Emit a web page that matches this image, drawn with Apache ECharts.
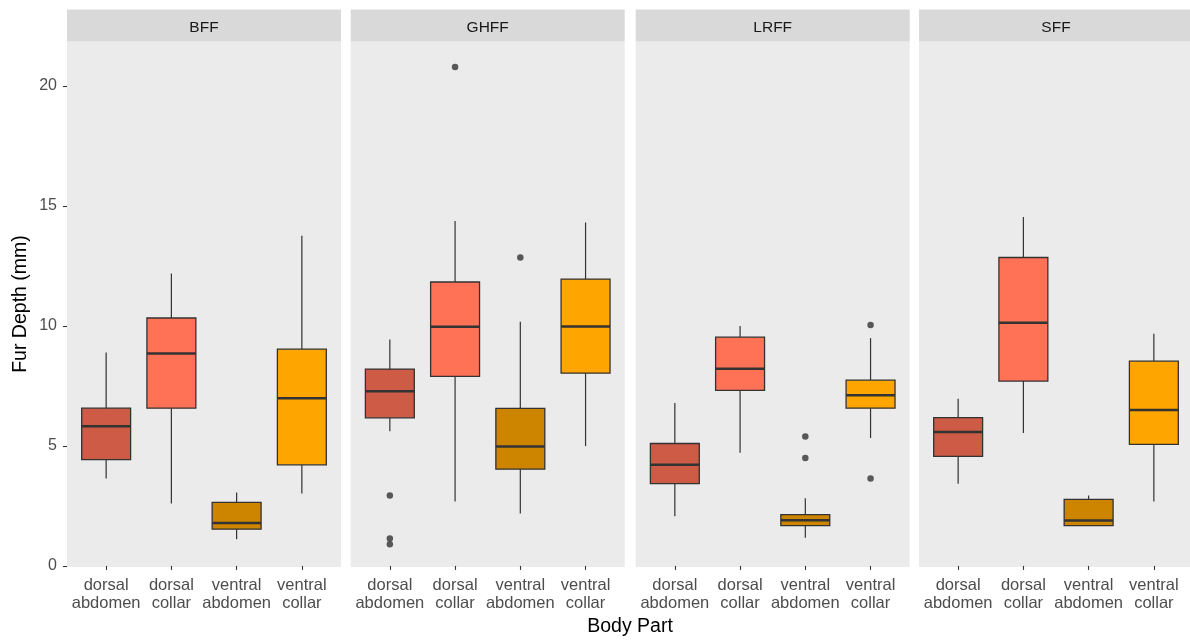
<!DOCTYPE html>
<html>
<head>
<meta charset="utf-8">
<script src="https://cdn.jsdelivr.net/npm/echarts@6/dist/echarts.min.js"></script>
<style>
html,body{margin:0;padding:0;background:#fff;}
#chart{width:1190px;height:642px;}
</style>
</head>
<body>
<div id="chart"></div>
<script>
// ---- data ----
const facets = ['BFF', 'GHFF', 'LRFF', 'SFF'];
const bodyParts = ['dorsal\nabdomen', 'dorsal\ncollar', 'ventral\nabdomen', 'ventral\ncollar'];
const partColors = ['#CD5B45', '#FF7256', '#CD8500', '#FFA500'];
const yTicks = [0, 5, 10, 15, 20];

// [lower whisker, Q1, median, Q3, upper whisker] per body part
const boxBFF = [
  [3.64, 4.43, 5.82, 6.57, 8.89],
  [2.60, 6.57, 8.85, 10.33, 12.18],
  [1.11, 1.53, 1.79, 2.65, 3.06],
  [3.02, 4.21, 6.99, 9.03, 13.76]
];
const boxGHFF = [
  [5.61, 6.17, 7.28, 8.20, 9.43],
  [2.68, 7.90, 9.96, 11.83, 14.37],
  [2.18, 4.03, 4.97, 6.56, 10.17],
  [4.99, 8.03, 9.97, 11.95, 14.31]
];
const boxLRFF = [
  [2.07, 3.43, 4.21, 5.10, 6.79],
  [4.71, 7.31, 8.21, 9.53, 10.00],
  [1.17, 1.68, 1.90, 2.14, 2.82],
  [5.33, 6.57, 7.11, 7.74, 9.49]
];
const boxSFF = [
  [3.42, 4.56, 5.58, 6.18, 6.96],
  [5.54, 7.70, 10.13, 12.85, 14.54],
  [1.68, 1.68, 1.89, 2.77, 2.93],
  [2.68, 5.06, 6.50, 8.53, 9.67]
];
// outliers: [body part index (1-based), value]
const outBFF = [];
const outGHFF = [[1, 2.93], [1, 1.14], [1, 0.90], [2, 20.79], [3, 12.85]];
const outLRFF = [[3, 5.39], [3, 4.50], [4, 10.04], [4, 3.64]];
const outSFF = [];

const allBoxes = [boxBFF, boxGHFF, boxLRFF, boxSFF];
const allOut = [outBFF, outGHFF, outLRFF, outSFF];

// ---- layout ----
const FONT = "'Liberation Sans', Arial, sans-serif";
const panelLeft = [67, 350.7, 635.7, 919];
const panelW = 274;
const panelTop = 41.5;
const yMin = -0.05, yMax = 21.85;
const panelH = (yMax - yMin) * 24;

const chart = echarts.init(document.getElementById('chart'), null, {renderer: 'canvas'});

const grids = [], xAxes = [], yAxes = [], series = [], graphics = [];
facets.forEach((f, i) => {
  grids.push({
    left: panelLeft[i], top: panelTop, width: panelW, height: panelH,
    show: true, backgroundColor: '#EBEBEB', borderWidth: 0,
    containLabel: false, outerBoundsMode: 'none'
  });
  xAxes.push({
    type: 'value', gridIndex: i, min: 0.4, max: 4.6,
    splitLine: {show: false},
    axisLine: {show: false},
    axisTick: {show: true, length: 4, lineStyle: {color: '#333333', width: 1.1}, customValues: [1, 2, 3, 4]},
    axisLabel: {
      show: true, customValues: [1, 2, 3, 4], margin: 10,
      color: '#4D4D4D', fontSize: 16.5, fontFamily: FONT, lineHeight: 17.7,
      formatter: v => bodyParts[Math.round(v) - 1] || ''
    }
  });
  yAxes.push({
    type: 'value', gridIndex: i, min: yMin, max: yMax,
    splitLine: {show: false},
    axisLine: {show: false},
    axisTick: {show: i === 0, length: 4, lineStyle: {color: '#333333', width: 1.1}, customValues: yTicks},
    axisLabel: {
      show: i === 0, customValues: yTicks, margin: 10,
      color: '#4D4D4D', fontSize: 16, fontFamily: FONT
    }
  });
  const boxData = allBoxes[i].map((b, k) => [k + 1, b[0], b[1], b[2], b[3], b[4], k]);
  series.push({
    type: 'custom', xAxisIndex: i, yAxisIndex: i,
    data: boxData,
    renderItem: (params, api) => {
      const x = api.value(0);
      const lo = api.coord([x, api.value(1)]);
      const q1 = api.coord([x, api.value(2)]);
      const md = api.coord([x, api.value(3)]);
      const q3 = api.coord([x, api.value(4)]);
      const hi = api.coord([x, api.value(5)]);
      const w = api.size([0.75, 0])[0];
      const cx = lo[0];
      const col = partColors[api.value(6)];
      const ls = {stroke: '#333333', lineWidth: 1.2};
      return {
        type: 'group',
        children: [
          {type: 'line', shape: {x1: cx, y1: hi[1], x2: cx, y2: q3[1]}, style: ls},
          {type: 'line', shape: {x1: cx, y1: q1[1], x2: cx, y2: lo[1]}, style: ls},
          {type: 'rect', shape: {x: cx - w / 2, y: q3[1], width: w, height: q1[1] - q3[1]},
            style: {fill: col, stroke: '#333333', lineWidth: 1.3}},
          {type: 'line', shape: {x1: cx - w / 2, y1: md[1], x2: cx + w / 2, y2: md[1]},
            style: {stroke: '#333333', lineWidth: 2.5}}
        ]
      };
    },
    silent: true, animation: false
  });
  series.push({
    type: 'scatter', xAxisIndex: i, yAxisIndex: i,
    data: allOut[i], symbol: 'circle', symbolSize: 6.5,
    itemStyle: {color: '#333333'}, silent: true, animation: false
  });
  graphics.push({
    type: 'rect', shape: {x: panelLeft[i], y: 9.5, width: panelW, height: 32},
    style: {fill: '#D9D9D9'}, silent: true
  });
  graphics.push({
    type: 'text', x: panelLeft[i] + panelW / 2, y: 28,
    style: {text: f, fill: '#1A1A1A', fontSize: 15.5, fontFamily: FONT, align: 'center', verticalAlign: 'middle'},
    silent: true
  });
});
graphics.push({
  type: 'text', x: 630, y: 627,
  style: {text: 'Body Part', fill: '#000000', fontSize: 19.5, fontFamily: FONT, align: 'center', verticalAlign: 'middle'},
  silent: true
});
graphics.push({
  type: 'text', x: 21, y: 304, rotation: Math.PI / 2,
  style: {text: 'Fur Depth (mm)', fill: '#000000', fontSize: 19.5, fontFamily: FONT, align: 'center', verticalAlign: 'middle'},
  silent: true
});

chart.setOption({
  animation: false,
  backgroundColor: '#FFFFFF',
  grid: grids, xAxis: xAxes, yAxis: yAxes, series: series,
  graphic: graphics
});
</script>
</body>
</html>
